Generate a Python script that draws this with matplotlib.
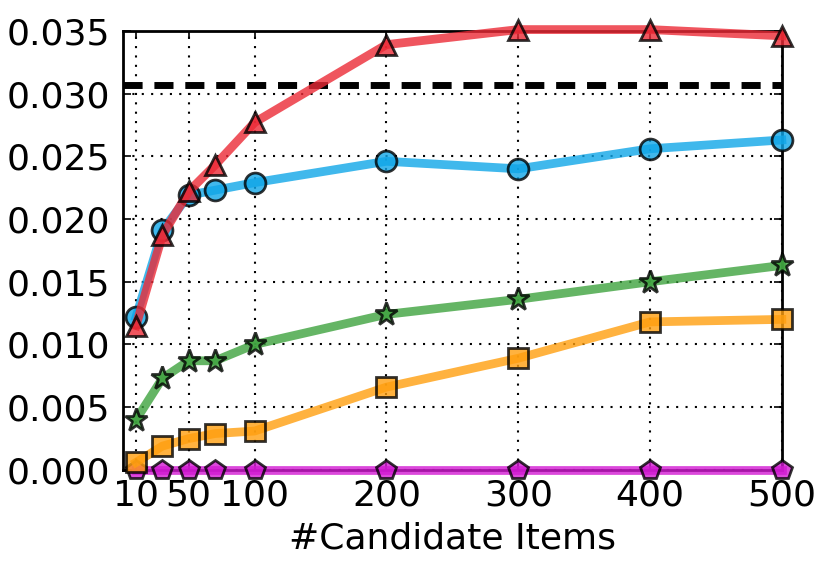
import numpy as np
import matplotlib
matplotlib.use('Agg')
import matplotlib.pyplot as plt

plt.rcParams['font.family'] = 'DejaVu Sans'
plt.rcParams['font.size'] = 26

# candidate item counts on the x axis
x_vals = [10, 30, 50, 70, 100, 200, 300, 400, 500]
x_ticks = [10, 50, 100, 200, 300, 400, 500]
y_ticks = [0.000, 0.005, 0.010, 0.015, 0.020, 0.025, 0.030, 0.035]

# series values
magenta = [0, 0, 0, 0, 0, 0, 0, 0, 0]
orange = [0.0006, 0.0019, 0.0025, 0.0029, 0.0031, 0.0066, 0.0089, 0.0118, 0.0120]
green = [0.0040, 0.0073, 0.0087, 0.0087, 0.0100, 0.0124, 0.0136, 0.0150, 0.0163]
blue = [0.0122, 0.0191, 0.0219, 0.0223, 0.0229, 0.0246, 0.0240, 0.0256, 0.0263]
red = [0.0115, 0.0187, 0.0222, 0.0243, 0.0277, 0.0339, 0.0351, 0.0351, 0.0346]
baseline = 0.0307

fig = plt.figure(figsize=(8.3, 5.71), dpi=100)
ax = fig.add_axes([0.148, 0.177, 0.794, 0.769])

styles = [
    (magenta, '#d21ad2', 'p'),
    (orange, '#ff9f0f', 's'),
    (green, '#3fa33f', '*'),
    (blue, '#10a6e8', 'o'),
    (red, '#ec2a36', '^'),
]
for ys, col, mk in styles:
    ms = 17 if mk == '*' else 15
    ax.plot(x_vals, ys, color=col, lw=6.3, alpha=0.8, marker=mk, ms=ms,
            mec='k', mew=2, clip_on=False, zorder=3)

line, = ax.plot([0, 500], [baseline, baseline], color='k', lw=5, zorder=2)
line.set_dashes((2.75, 1.7))
line.set_dash_capstyle('butt')

ax.set_xlim(0, 500)
ax.set_ylim(0, 0.035)
ax.set_xticks(x_ticks)
ax.set_yticks(y_ticks)
ax.set_yticklabels(['%.3f' % v for v in y_ticks])
ax.grid(True, color='k', ls=(0, (1, 3.5)), lw=1.5)
ax.set_axisbelow(True)
ax.tick_params(direction='in', length=6, width=1.2, pad=9,
               top=True, right=True)
ax.tick_params(axis='x', pad=6)
for sp in ax.spines.values():
    sp.set_linewidth(2)
ax.set_xlabel('#Candidate Items', labelpad=7)

fig.savefig('out.png', dpi=100)
